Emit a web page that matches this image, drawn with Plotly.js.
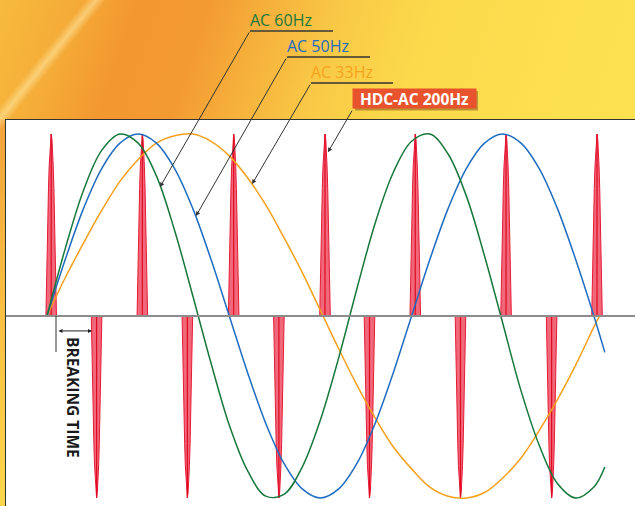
<!DOCTYPE html>
<html>
<head>
<meta charset="utf-8">
<script src="https://cdn.plot.ly/plotly-3.0.1.min.js"></script>
<style>
html, body { margin: 0; padding: 0; }
body {
  width: 635px; height: 506px; overflow: hidden;
  background:
    linear-gradient(129deg, rgba(255,240,180,0) 8.2%, rgba(255,236,170,0.55) 9.2%, rgba(255,240,180,0) 10.2%),
    linear-gradient(180deg, #f2a23a 0%, #f7bd42 45%, #fdd64c 100%) 0 120px / 8px 386px no-repeat,
    linear-gradient(108deg, #f7bb3e 0%, #f5ac38 9%, #f3982f 17%, #f39a31 26%, #f6b13c 34%, #f9c946 43%, #fbd94b 54%, #fde050 76%, #fee454 100%);
}
#plot { width: 635px; height: 506px; }
</style>
</head>
<body>
<div id="plot"></div>
<script>
// ---- data (time in ms, values normalised to peak = 1) ----
const timeAC60 = [0,1,2,3,4,5,6,7,8,9,10,11,12,13,14,15,16,17,18,19,20,21,22,23,24,25,26,27,28,29,30,30.6];
const ac60 = [0,0.37,0.69,0.91,1.00,0.95,0.77,0.47,0.11,-0.26,-0.60,-0.85,-0.99,-0.98,-0.83,-0.57,-0.23,0.15,0.51,0.79,0.96,1.00,0.89,0.66,0.33,-0.04,-0.41,-0.71,-0.92,-1.00,-0.94,-0.83];
const timeAC50 = [0,1,2,3,4,5,6,7,8,9,10,11,12,13,14,15,16,17,18,19,20,21,22,23,24,25,26,27,28,29,30,30.6];
const ac50 = [0,0.31,0.59,0.81,0.95,1.00,0.95,0.81,0.59,0.31,0,-0.31,-0.59,-0.81,-0.95,-1.00,-0.95,-0.81,-0.59,-0.31,0,0.31,0.59,0.81,0.95,1.00,0.95,0.81,0.59,0.31,0,-0.20];
const timeAC33 = [0,1,2,3,4,5,6,7,8,9,10,11,12,13,14,15,16,17,18,19,20,21,22,23,24,25,26,27,28,29,30,30.3];
const ac33 = [0,0.21,0.40,0.58,0.74,0.86,0.95,0.99,1.00,0.96,0.88,0.76,0.61,0.43,0.24,0.03,-0.18,-0.38,-0.56,-0.72,-0.84,-0.94,-0.99,-1.00,-0.97,-0.89,-0.78,-0.63,-0.46,-0.27,-0.06,0];
const spikeTimes = [0.23,2.72,5.23,7.70,10.24,12.72,15.25,17.69,20.20,22.68,25.18,27.68,30.17];
const spikeValues = [1,-1,1,-1,1,-1,1,-1,1,-1,1,-1,1];
const labels = ['AC 60Hz','AC 50Hz','AC 33Hz','HDC-AC 200Hz'];
const breakingLabel = 'BREAKING TIME';

// ---- build spike polygons from spike data ----
const halfW = 0.29;
const prof = [0,0.1,0.25,0.4,0.55,0.7,0.82,0.92,0.97,1];
const sx = [], sy = [], cx = [], cy = [];
spikeTimes.forEach((tc, i) => {
  const a = spikeValues[i];
  prof.forEach(h => { sx.push(tc - halfW*Math.pow(1-h,0.55)); sy.push(a*h); });
  prof.slice().reverse().forEach(h => { sx.push(tc + halfW*Math.pow(1-h,0.55)); sy.push(a*h); });
  sx.push(null); sy.push(null);
  cx.push(tc, tc, null); cy.push(0, a, null);
});

const traces = [
  {x: sx, y: sy, mode: 'lines', fill: 'toself', fillcolor: 'rgba(238,84,104,0.88)',
   line: {color: '#e81a36', width: 1}, hoverinfo: 'skip', showlegend: false},
  {x: cx, y: cy, mode: 'lines', line: {color: '#e00a22', width: 1.2}, hoverinfo: 'skip', showlegend: false},
  {x: timeAC33, y: ac33, mode: 'lines', line: {color: '#f5a01a', width: 1.5, shape: 'spline'}, showlegend: false},
  {x: timeAC50, y: ac50, mode: 'lines', line: {color: '#1f6cc0', width: 1.5, shape: 'spline'}, showlegend: false},
  {x: timeAC60, y: ac60, mode: 'lines', line: {color: '#17783c', width: 1.5, shape: 'spline'}, showlegend: false}
];

const W = 635, H = 506, L = 6, T = 120;
const px = v => (v - L) / (W - L);
const py = v => (H - v) / (H - T);

const font = 'Open Sans, Lato, sans-serif';
const lead = {showarrow: true, arrowhead: 2, arrowsize: 0.9, arrowwidth: 1, arrowcolor: '#333', text: '', standoff: 0, startstandoff: 0};

const layout = {
  width: W, height: H,
  margin: {l: L, r: 0, t: T, b: 0, pad: 0},
  paper_bgcolor: 'rgba(0,0,0,0)',
  plot_bgcolor: '#ffffff',
  showlegend: false,
  xaxis: {range: [-2.249, 32.254], showgrid: false, zeroline: false, showticklabels: false, ticks: '',
          showline: true, side: 'top', linecolor: '#333', linewidth: 1.5, fixedrange: true},
  yaxis: {range: [-1.044, 1.0769], showgrid: false, zeroline: false, showticklabels: false, ticks: '',
          showline: true, linecolor: '#333', linewidth: 1.5, fixedrange: true},
  shapes: [
    {type: 'line', xref: 'paper', yref: 'y', x0: 0, x1: 1, y0: 0, y1: 0, line: {color: '#8c8c8c', width: 2}, layer: 'above'},
    {type: 'line', xref: 'paper', yref: 'paper', x0: px(250), x1: px(333), y0: py(31), y1: py(31), line: {color: '#66593a', width: 1.8}},
    {type: 'line', xref: 'paper', yref: 'paper', x0: px(287), x1: px(370), y0: py(57), y1: py(57), line: {color: '#66593a', width: 1.8}},
    {type: 'line', xref: 'paper', yref: 'paper', x0: px(311), x1: px(393), y0: py(83), y1: py(83), line: {color: '#66593a', width: 1.8}},
    {type: 'rect', xref: 'paper', yref: 'paper', x0: px(355), x1: px(478), y0: py(110.5), y1: py(91), fillcolor: 'rgba(110,60,20,0.45)', line: {width: 0}},
    {type: 'line', xref: 'paper', yref: 'paper', x0: px(56), x1: px(56), y0: py(316), y1: py(352), line: {color: '#333', width: 1}, layer: 'above'}
  ],
  annotations: [
    {xref: 'paper', yref: 'paper', x: px(249), y: py(20), xanchor: 'left', yanchor: 'middle', showarrow: false, borderpad: 0,
     text: labels[0], font: {family: font, size: 16, color: '#17783c'}},
    {xref: 'paper', yref: 'paper', x: px(286), y: py(46), xanchor: 'left', yanchor: 'middle', showarrow: false, borderpad: 0,
     text: labels[1], font: {family: font, size: 16, color: '#1c6cc4'}},
    {xref: 'paper', yref: 'paper', x: px(310), y: py(72), xanchor: 'left', yanchor: 'middle', showarrow: false, borderpad: 0,
     text: labels[2], font: {family: font, size: 16, color: '#f5a21c'}},
    {xref: 'paper', yref: 'paper', x: px(414.5), y: py(98.7), xanchor: 'center', yanchor: 'middle', showarrow: false,
     width: 121, height: 17, borderpad: 1, bgcolor: '#e8532d',
     text: '<b>' + labels[3] + '</b>', font: {family: font, size: 15.5, color: '#ffffff'}},
    Object.assign({x: 6.20, y: 0.709, xref: 'x', yref: 'y', ax: 90, ay: -156}, lead),
    Object.assign({x: 8.17, y: 0.549, xref: 'x', yref: 'y', ax: 91, ay: -159}, lead),
    Object.assign({x: 11.25, y: 0.725, xref: 'x', yref: 'y', ax: 59, ay: -101}, lead),
    Object.assign({x: 15.41, y: 0.90, xref: 'x', yref: 'y', ax: 25, ay: -43}, lead),
    {x: 2.47, y: -0.082, xref: 'x', yref: 'y', ax: -35, ay: 0, showarrow: true, arrowside: 'end+start', arrowhead: 2,
     arrowsize: 0.8, arrowwidth: 1, arrowcolor: '#222', text: '', standoff: 0, startstandoff: 0},
    {xref: 'paper', yref: 'paper', x: px(73), y: py(397), xanchor: 'center', yanchor: 'middle', showarrow: false, textangle: 90,
     text: '<b>' + breakingLabel + '</b>', font: {family: font, size: 15.5, color: '#1a1a1a'}}
  ]
};

Plotly.newPlot('plot', traces, layout, {staticPlot: true, displayModeBar: false});
</script>
</body>
</html>
